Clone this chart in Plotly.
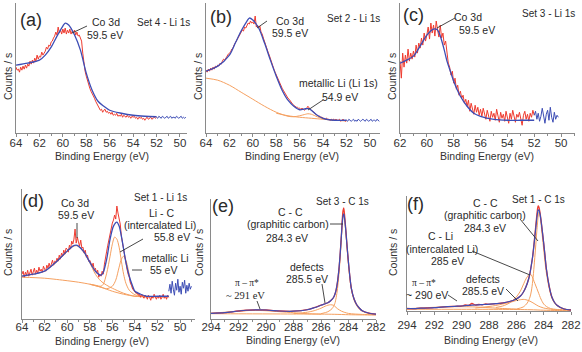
import plotly.graph_objects as go

W, H = 582, 352
RED = '#ee3b2f'
BLUE = '#3d4db5'
ORANGE = '#f5a060'
TXT = '#2a2a2a'
AXC = '#8a8a8a'
SANS = 'Arial, Liberation Sans, sans-serif'
SERIF = 'Times New Roman, Liberation Serif, serif'

# ---------------- Panel (a) : Set 4 - Li 1s ----------------
a_red_start, a_step = 64.0, 0.1
a_red = [66, 63, 64, 61, 66, 63, 67, 64, 68, 65,
         69, 67, 72, 69, 73, 70, 75, 72, 78, 74,
         77, 76, 81, 78, 80, 82, 86, 84, 88, 87,
         91, 92, 95, 97, 101, 98, 106, 100, 103, 99,
         104, 100, 105, 99, 103, 100, 104, 99, 102, 100,
         103, 98, 101, 97, 98, 94, 92, 80, 68, 62,
         57, 52, 48, 45, 42, 40, 37, 35, 32, 30,
         27, 26, 23, 24, 21, 23, 24, 21, 22, 20,
         21, 19, 21, 18, 19, 18, 20, 17, 18, 17,
         19, 16, 18, 17, 16, 18, 16, 17, 15, 17,
         16, 17, 15, 16, 14, 16, 15, 16, 14, 15,
         13, 15, 16, 14, 15, 16, 14, 15, 16, 15,
         16]
a_tail_start = 52.0
a_tail = [16, 15, 17, 16, 15, 17, 16, 15, 16, 17, 15, 16, 17, 15, 16, 16,
          15, 17, 16, 15, 16, 17, 15, 16, 15, 16]
a_fit_x = [64, 63, 62, 61.5, 61, 60.5, 60, 59.8, 59.5, 59, 58.5, 58, 57.5, 57,
           56.5, 56, 55, 54, 53, 52]
a_fit_y = [68, 70, 73, 78, 86, 97, 107, 110, 108, 98, 83, 60, 43, 32, 27, 23,
           20, 18, 17, 16.5]

# ---------------- Panel (b) : Set 2 - Li 1s ----------------
b_red_start = 64.0
b_red = [63, 61, 64, 62, 65, 63, 66, 64, 67, 66,
         68, 67, 70, 69, 72, 74, 73, 76, 77, 79,
         80, 81, 84, 85, 88, 90, 92, 94, 96, 99,
         100, 103, 102, 106, 105, 108, 110, 109, 112, 110,
         111, 109, 117, 106, 108, 105, 107, 101, 99, 95,
         91, 88, 85, 81, 78, 74, 71, 67, 64, 61,
         58, 55, 52, 50, 47, 45, 43, 41, 38, 37,
         35, 34, 32, 31, 29, 28, 27, 26, 26, 25,
         25, 24, 25, 24, 23, 24, 25, 27, 25, 24,
         23, 22, 21, 20, 19, 18, 17, 17, 16, 16,
         15, 15, 14, 15, 14, 14, 13, 14, 13, 14,
         13, 14, 13, 13, 14, 12, 13, 14, 13, 12,
         13]
b_tail_start = 52.0
b_tail = [13, 12, 14, 13, 12, 13, 14, 12, 13, 12, 14, 13, 12, 13, 14, 13,
          12, 14, 13, 12, 13, 14, 12, 13, 13, 12, 14, 13, 12]
b_fit_x = [64, 63, 62, 61.5, 61, 60.5, 60.3, 60, 59.5, 59, 58.5, 58, 57.5, 57,
           56.5, 56, 55.5, 55.2, 55, 54.5, 54, 53, 52]
b_fit_y = [62, 67, 78, 90, 102, 112, 115, 113, 105, 90, 73, 57, 43, 33, 27,
           23.5, 24.5, 24.5, 23, 18, 15, 13, 13]
b_bg_x = [64, 63, 62, 61, 60, 59, 58, 57, 56.5, 56, 55.5, 55.3, 55, 54.5, 54,
          53, 52]
b_bg_y = [55, 53, 48, 41, 34, 27, 21, 17, 16.5, 17.5, 19, 19.5, 19, 16.5,
          14.5, 13, 12.5]
b_base_x = [58, 57, 56, 55, 54, 53, 52]
b_base_y = [20, 17.5, 16, 15, 14, 13, 12.5]

# ---------------- Panel (c) : Set 3 - Li 1s ----------------
c_red_start = 62.0
c_red = [72, 55, 80, 66, 78, 70, 84, 72, 80, 74,
         82, 76, 88, 80, 90, 85, 95, 88, 100, 92,
         98, 106, 94, 110, 100, 108, 97, 112, 103, 96,
         108, 95, 100, 88, 92, 78, 70, 66, 58, 62,
         50, 55, 44, 48, 38, 42, 35, 38, 30, 34,
         27, 33, 22, 30, 25, 19, 28, 21, 26, 18,
         24, 17, 25, 20, 14, 23, 18, 12, 22, 16,
         20, 13, 24, 16, 11, 21, 15, 19, 12, 22,
         17, 10, 20, 14, 23, 15, 11, 19, 16, 21,
         13, 8, 18, 22, 14, 19, 12, 20, 16, 23,
         18]
c_tail_start = 52.0
c_tail = [18, 22, 14, 20, 12, 17, 25, 15, 10, 19, 23, 13, 26, 16, 11, 21, 14,
          18, 16]
c_fit_x = [62, 61.5, 61, 60.5, 60, 59.5, 59.2, 59, 58.7, 58.5, 58.2, 58, 57.5,
           57, 56.5, 56, 55, 54, 53, 52]
c_fit_y = [70, 73, 77, 87, 98, 104, 103, 97, 83, 72, 60, 52, 37, 27, 20, 17,
           14, 13, 13, 13]

# ---------------- Panel (d) : Set 1 - Li 1s ----------------
d_red_start = 64.0
d_red = [45, 48, 42, 47, 44, 49, 43, 46, 50, 44,
         47, 51, 45, 49, 46, 52, 48, 50, 47, 53,
         50, 48, 54, 51, 56, 52, 55, 59, 54, 58,
         57, 61, 58, 64, 60, 66, 63, 69, 65, 71,
         70, 67, 74, 70, 78, 75, 80, 90, 76, 82,
         77, 73, 79, 71, 72, 66, 69, 62, 64, 58,
         59, 55, 53, 56, 49, 51, 46, 49, 42, 45,
         43, 48, 45, 55, 60, 68, 74, 80, 85, 92,
         96, 99, 104, 100, 113, 106, 100, 95, 83, 76,
         67, 62, 54, 50, 45, 42, 36, 34, 30, 29,
         28, 26, 27, 24, 25, 22, 25, 23, 21, 24,
         23, 20, 24, 22, 19, 23, 21, 25, 22, 20,
         23, 21, 24, 20, 22, 25, 21, 23, 20, 24,
         22]
d_tail_start = 51.0
d_tail = [28, 35, 26, 38, 30, 24, 36, 29, 40, 27, 33, 25, 37, 31, 39, 26, 34,
          28, 36, 30, 33]
d_fit_x = [64, 63, 62, 61, 60, 59.5, 59.2, 59, 58.5, 58, 57.5, 57, 56.8, 56.5,
           56.2, 55.9, 55.6, 55.4, 55.2, 55, 54.8, 54.5, 54.2, 54, 53.5, 53, 52,
           51]
d_fit_y = [43, 45, 48, 57, 68, 73, 74, 73, 67, 57, 48, 44, 47, 60, 80, 93, 97,
           93, 83, 70, 57, 43, 33, 28, 25, 23, 23, 23]
d_co_x = [64, 63, 62, 61, 60, 59.5, 59.2, 59, 58.5, 58, 57.5, 57, 56.5, 56, 55,
          54, 53, 52, 51]
d_co_y = [43, 45, 48, 56.5, 67.5, 72.5, 73.5, 72.5, 66.5, 56.5, 45, 38, 34, 31,
          26, 23, 22.5, 22.5, 22.5]
d_lic_x = [58, 57.5, 57, 56.8, 56.5, 56.2, 56, 55.8, 55.6, 55.4, 55.2, 55, 54.8,
           54.5, 54, 53.5, 53]
d_lic_y = [35, 34, 33, 35, 46, 63, 75, 82, 80, 72, 58, 45, 36, 29, 24.5, 23,
           22.5]
d_lim_x = [58, 57, 56.5, 56, 55.7, 55.4, 55.2, 55, 54.8, 54.6, 54.4, 54.2, 54,
           53.5, 53]
d_lim_y = [35, 32, 30.5, 33, 39, 52, 60, 63, 59, 50, 38, 31, 27, 23.5, 22.5]
d_bg_x = [64, 62, 60, 59, 58, 57, 56, 55, 54, 53, 51]
d_bg_y = [42, 41, 38.5, 37, 35, 32, 28, 25, 23, 22.5, 22.5]

# ---------------- Panel (e) : Set 3 - C 1s ----------------
e_x = [294, 293, 292, 291, 290, 289, 288, 287, 286.5, 286, 285.7, 285.5,
       285.3, 285.1, 285, 284.9, 284.8, 284.7, 284.6, 284.5, 284.45, 284.4,
       284.35, 284.3, 284.2, 284.1, 284, 283.9, 283.8, 283.6, 283.4, 283.2,
       283, 282.5, 282]
e_red = [5.3, 6, 7.7, 8.7, 8.7, 7.7, 7.5, 9, 11, 13.5, 15, 16, 18, 21, 24, 29,
         37, 49, 66, 88, 100, 108, 111, 106, 90, 72, 56, 42, 31, 20, 14, 10.5,
         8, 5.5, 4.5]
e_fit = [5.3, 6, 7.7, 8.7, 8.7, 7.7, 7.5, 9, 11, 13.5, 15, 16, 18, 21, 24, 29,
         37, 49, 66, 87, 97, 103, 105, 102, 89, 72, 56, 42, 31, 20, 14, 10.5,
         8, 5.5, 4.5]
e_cc_x = [286, 285.5, 285.2, 285, 284.9, 284.8, 284.7, 284.6, 284.5, 284.4,
          284.35, 284.3, 284.2, 284.1, 284, 283.9, 283.8, 283.6, 283.4, 283.2,
          283, 282.5, 282]
e_cc_y = [5, 7, 10, 15, 21, 30, 44, 62, 85, 101, 104, 101, 87, 70, 54, 40, 30,
          19, 13, 9.5, 7.5, 5, 4.3]
e_def_x = [288, 287, 286.5, 286, 285.7, 285.5, 285.3, 285.1, 285, 284.8, 284.5,
           284, 283, 282]
e_def_y = [5, 6.5, 8, 10.5, 12.5, 13.5, 14, 13.5, 12.5, 10, 7.5, 5.3, 4.3, 4]
e_pi_x = [294, 293, 292, 291, 290, 289, 288, 287, 286]
e_pi_y = [5.5, 6.5, 7.5, 8.3, 8, 7, 6, 5, 4.6]
e_bg_x = [294, 290, 288, 286, 285, 284, 283, 282]
e_bg_y = [5, 4.8, 4.7, 4.6, 4.4, 4, 3.8, 3.7]

# ---------------- Panel (f) : Set 1 - C 1s ----------------
f_x = [294, 293.5, 293, 292.5, 292, 291.5, 291, 290.5, 290, 289.75, 289.5,
       289.25, 289, 288.75, 288.5, 288.25, 288, 287.5, 287, 286.5, 286, 285.7,
       285.5, 285.3, 285.1, 285, 284.9, 284.8, 284.7, 284.6, 284.5, 284.45,
       284.4, 284.35, 284.3, 284.2, 284.1, 284, 283.9, 283.8, 283.6, 283.4,
       283.2, 283, 282.5, 282]
f_red = [2.5, 2.3, 2.8, 3, 3.3, 3.8, 4.3, 4.7, 5, 6, 5.5, 7.5, 6, 6.5, 6.2, 7,
         6.7, 7.3, 8, 9.5, 12, 15, 18.5, 24, 32, 38, 46, 55, 68, 82, 96, 102,
         105, 104, 101, 92, 80, 68, 55, 42, 25, 14, 8.5, 5.5, 2, 1]
f_fit = [2.5, 2.4, 2.8, 3, 3.3, 3.8, 4.3, 4.7, 5, 5.4, 5.6, 5.8, 6, 6.2, 6.4,
         6.6, 6.8, 7.3, 8, 9.5, 12, 15, 18.5, 24, 32, 38, 46, 55, 67, 80, 93,
         98, 101, 101, 99, 91, 80, 68, 55, 42, 25, 14, 8.5, 5.5, 2, 1]
f_cc_x = [286, 285.5, 285.2, 285, 284.9, 284.8, 284.7, 284.6, 284.5, 284.4,
          284.35, 284.3, 284.2, 284.1, 284, 283.9, 283.8, 283.6, 283.4, 283.2,
          283, 282.5, 282]
f_cc_y = [2, 4, 8, 14, 20, 30, 45, 62, 80, 95, 99, 98, 88, 75, 62, 49, 38, 23,
          13, 8, 5, 2, 1]
f_cli_x = [287.5, 287, 286.5, 286, 285.7, 285.5, 285.3, 285.1, 285, 284.9,
           284.8, 284.6, 284.4, 284.2, 284, 283.8, 283.5, 283, 282]
f_cli_y = [3.5, 5, 8, 14, 20, 26, 32, 36, 37, 36, 33, 26, 19, 12, 7, 4.5, 2.5,
           1.5, 1]
f_def_x = [289, 288, 287.5, 287, 286.5, 286, 285.7, 285.5, 285.3, 285, 284.7,
           284.4, 284, 283.5, 283, 282]
f_def_y = [3, 4.5, 5.5, 7, 8.5, 10.5, 11.3, 11.6, 11.3, 9.8, 7.5, 5, 3, 1.8,
           1.2, 1]
f_pi_x = [294, 293, 292, 291, 290, 289, 288, 287, 286]
f_pi_y = [2.3, 3, 3.7, 4.2, 4.3, 4, 3.3, 2.5, 2]
f_bg_x = [294, 290, 287, 285, 284, 283, 282]
f_bg_y = [1.7, 1.7, 1.6, 1.3, 0.8, 0.5, 0.3]

XTICKS_LI = [64, 62, 60, 58, 56, 54, 52, 50]
XTICKS_C = [294, 292, 290, 288, 286, 284, 282]


def grid(start, n, step=0.1):
    return [round(start - step * i, 2) for i in range(n)]


# panel layout in pixels: (x0, x1, ytop, ybottom, xrange, yrange, ticks, label standoff)
panels = {
    'a': (16, 187, 3, 133.3, [64, 49.4], [0, 130], XTICKS_LI, -4),
    'b': (206, 380, 3, 133.3, [64, 49.14], [0, 130], XTICKS_LI, -4),
    'c': (400, 575, 3, 133.3, [62, 48.96], [0, 130], XTICKS_LI, -4),
    'd': (22, 195, 189, 319.3, [64, 48.68], [0, 130], XTICKS_LI, -6),
    'e': (211, 376, 199, 318.7, [294, 282], [0, 120], XTICKS_C, -6),
    'f': (407, 571, 196, 311, [294, 282], [0, 115], XTICKS_C, 0),
}
order = ['a', 'b', 'c', 'd', 'e', 'f']

fig = go.Figure()


def add(panel, x, y, color, width=1.0, spline=False):
    i = order.index(panel) + 1
    fig.add_trace(go.Scatter(
        x=x, y=y, mode='lines',
        line=dict(color=color, width=width,
                  shape='spline' if spline else 'linear',
                  smoothing=0.8 if spline else None),
        xaxis='x' if i == 1 else f'x{i}', yaxis='y' if i == 1 else f'y{i}',
        showlegend=False, hoverinfo='skip'))


# (a)
add('a', grid(a_red_start, len(a_red)), a_red, RED)
add('a', grid(a_tail_start, len(a_tail)), a_tail, BLUE)
add('a', a_fit_x, a_fit_y, BLUE, 1.3, True)
# (b)
add('b', b_bg_x, b_bg_y, ORANGE, 1.0, True)
add('b', b_base_x, b_base_y, ORANGE, 1.0, True)
add('b', grid(b_red_start, len(b_red)), b_red, RED)
add('b', grid(b_tail_start, len(b_tail)), b_tail, BLUE)
add('b', b_fit_x, b_fit_y, BLUE, 1.3, True)
# (c)
add('c', grid(c_red_start, len(c_red)), c_red, RED)
add('c', grid(c_tail_start, len(c_tail)), c_tail, BLUE)
add('c', c_fit_x, c_fit_y, BLUE, 1.3, True)
# (d)
add('d', d_bg_x, d_bg_y, ORANGE, 1.0, True)
add('d', d_co_x, d_co_y, ORANGE, 1.0, True)
add('d', d_lic_x, d_lic_y, ORANGE, 1.0, True)
add('d', d_lim_x, d_lim_y, ORANGE, 1.0, True)
add('d', grid(d_red_start, len(d_red)), d_red, RED)
add('d', grid(d_tail_start, len(d_tail)), d_tail, BLUE)
add('d', d_fit_x, d_fit_y, BLUE, 1.3, True)
# (e)
add('e', e_bg_x, e_bg_y, ORANGE, 1.0, True)
add('e', e_pi_x, e_pi_y, ORANGE, 1.0, True)
add('e', e_def_x, e_def_y, ORANGE, 1.0, True)
add('e', e_cc_x, e_cc_y, ORANGE, 1.0, True)
add('e', e_x, e_red, RED, 1.3, True)
add('e', e_x, e_fit, BLUE, 1.2, True)
# (f)
add('f', f_bg_x, f_bg_y, ORANGE, 1.0, True)
add('f', f_pi_x, f_pi_y, ORANGE, 1.0, True)
add('f', f_def_x, f_def_y, ORANGE, 1.0, True)
add('f', f_cli_x, f_cli_y, ORANGE, 1.0, True)
add('f', f_cc_x, f_cc_y, ORANGE, 1.0, True)
add('f', f_x, f_red, RED, 1.3, True)
add('f', f_x, f_fit, BLUE, 1.2, True)

layout = dict(width=W, height=H, margin=dict(l=0, r=0, t=0, b=0),
              paper_bgcolor='white', plot_bgcolor='white',
              template='none', showlegend=False)

for i, p in enumerate(order, start=1):
    x0, x1, yt, yb, xr, yr, ticks, stand = panels[p]
    xa = 'xaxis' if i == 1 else f'xaxis{i}'
    ya = 'yaxis' if i == 1 else f'yaxis{i}'
    layout[xa] = dict(
        domain=[x0 / W, x1 / W], range=xr, anchor='y' if i == 1 else f'y{i}',
        showline=True, linecolor=AXC, linewidth=1, showgrid=False,
        zeroline=False, ticks='outside', tickcolor=AXC, ticklen=3,
        tickvals=ticks, ticktext=[str(t) for t in ticks],
        tickfont=dict(family=SANS, size=11.5, color='#333333'),
        minor=dict(ticks='outside', dtick=1, ticklen=2, tickcolor=AXC,
                   showgrid=False),
        automargin=False, fixedrange=True,
        ticklabelstandoff=stand)
    layout[ya] = dict(
        domain=[1 - yb / H, 1 - yt / H], range=yr,
        anchor='x' if i == 1 else f'x{i}',
        showline=True, linecolor=AXC, linewidth=1, showgrid=False,
        zeroline=False, showticklabels=False, ticks='', automargin=False,
        fixedrange=True)

fig.update_layout(**layout)


def P(x, y):
    return x / W, 1 - y / H


annots = [
    # (a)
    ('(a)', 31, 20, 18, SANS), ('Co 3d', 106, 22, 10.5, SANS),
    ('59.5 eV', 105, 35, 10.5, SANS), ('Set 4 - Li 1s', 163, 23, 10, SANS),
    # (b)
    ('(b)', 221, 17, 18, SANS), ('Co 3d', 290, 21, 10.5, SANS),
    ('59.5 eV', 290, 33, 10.5, SANS), ('Set 2 - Li 1s', 353, 19, 10, SANS),
    ('metallic Li (Li 1s)', 338, 83, 10.5, SANS), ('54.9 eV', 340, 97, 10.5, SANS),
    # (c)
    ('(c)', 413, 15, 18, SANS), ('Co 3d', 468, 17, 10.5, SANS),
    ('59.5 eV', 477, 30, 10.5, SANS), ('Set 3 - Li 1s', 548, 13, 10, SANS),
    # (d)
    ('(d)', 33, 201, 18, SANS), ('Co 3d', 75, 203, 10.5, SANS),
    ('59.5 eV', 76, 215, 10.5, SANS), ('Set 1 - Li 1s', 160, 197, 10, SANS),
    ('Li - C', 162, 213, 10.5, SANS), ('(intercalated Li)', 160, 225, 10.5, SANS),
    ('55.8 eV', 172, 237, 10.5, SANS), ('metallic Li', 165, 258, 10.5, SANS),
    ('55 eV', 163, 270, 10.5, SANS),
    # (e)
    ('(e)', 223, 206, 18, SANS), ('Set 3 - C 1s', 342, 201, 10, SANS),
    ('C - C', 290, 212, 10.5, SANS), ('(graphitic carbon)', 288, 224, 10.5, SANS),
    ('284.3 eV', 287, 238, 10.5, SANS), ('defects', 307, 267, 10.5, SANS),
    ('285.5 eV', 307, 279, 10.5, SANS), ('π – π*', 247, 283, 9.5, SERIF),
    ('~ 291 eV', 245, 295, 10.5, SERIF),
    # (f)
    ('(f)', 415, 204, 18, SANS), ('Set 1 - C 1s', 538, 199, 10, SANS),
    ('C - C', 485, 203, 10.5, SANS), ('(graphitic carbon)', 485, 215, 10.5, SANS),
    ('284.3 eV', 485, 228, 10.5, SANS), ('C - Li', 440, 236, 10.5, SANS),
    ('(intercalated Li)', 442, 249, 10.5, SANS), ('285 eV', 447, 261, 10.5, SANS),
    ('π – π*', 424, 283, 9.5, SERIF), ('~ 290 eV', 427, 295, 10.5, SANS),
    ('defects', 483, 279, 10.5, SANS), ('285.5 eV', 483, 291, 10.5, SANS),
]
for txt, x, y, s, fam in annots:
    px, py = P(x, y)
    fig.add_annotation(x=px, y=py, xref='paper', yref='paper', text=txt,
                       showarrow=False, xanchor='center', yanchor='middle',
                       font=dict(family=fam, size=s, color=TXT))

# axis titles
for x, y in [(8, 77), (198, 77), (392, 77), (8, 253), (199, 253), (393, 253)]:
    px, py = P(x, y)
    fig.add_annotation(x=px, y=py, xref='paper', yref='paper', text='Counts / s',
                       showarrow=False, textangle=-90, xanchor='center',
                       yanchor='middle',
                       font=dict(family=SANS, size=10.5, color='#333333'))
for x, y in [(102, 156), (292, 156), (487, 156), (102, 341), (293, 340), (491, 340)]:
    px, py = P(x, y)
    fig.add_annotation(x=px, y=py, xref='paper', yref='paper',
                       text='Binding Energy (eV)', showarrow=False,
                       xanchor='center', yanchor='middle',
                       font=dict(family=SANS, size=10.5, color='#333333'))

leaders = [
    (87, 26, 72, 33), (267, 21, 257, 28), (323, 100, 308, 110),
    (455, 18, 437, 28), (77, 223, 77, 238), (143, 239, 120, 252),
    (142, 270, 132, 270), (330, 224, 343, 224), (322, 284, 325, 303),
    (257, 301, 260, 309), (520, 219, 538, 241), (472, 251, 530, 275),
    (448, 295, 457, 301), (506, 289, 518, 301),
]
for x0, y0, x1, y1 in leaders:
    a0, b0 = P(x0, y0)
    a1, b1 = P(x1, y1)
    fig.add_shape(type='line', xref='paper', yref='paper', x0=a0, y0=b0,
                  x1=a1, y1=b1, line=dict(color='#333333', width=0.9))

fig.write_html('out.html')
